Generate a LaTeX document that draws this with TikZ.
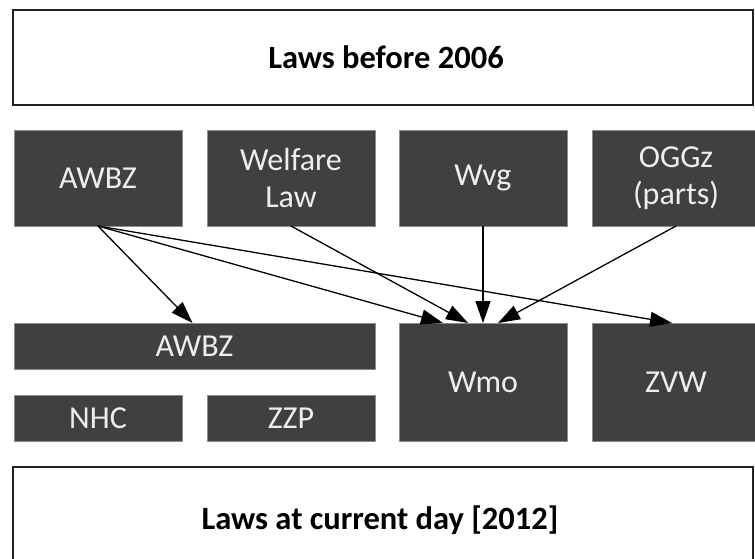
\documentclass[tikz,border=0pt]{standalone}
\usepackage{fontspec}
\setmainfont{Carlito}
\usetikzlibrary{arrows.meta,calc}
\definecolor{boxfill}{HTML}{404040}
\definecolor{boxtext}{HTML}{EEEEEE}
\definecolor{boxedge}{HTML}{8C8C8C}
\definecolor{frameline}{HTML}{222222}
\tikzset{
  darkbox/.style={rectangle, fill=boxfill, draw=boxedge, line width=0.8pt, inner sep=0pt, outer sep=0pt,
    text=boxtext, align=center, font=\fontsize{32}{37}\selectfont},
  framebox/.style={rectangle, fill=white, draw=frameline, line width=2.4pt, inner sep=0pt, outer sep=0pt},
  titletext/.style={text=black, font=\bfseries\fontsize{32.5}{38}\selectfont},
  arr/.style={draw=black, line width=1.3pt, -{Triangle[length=22pt,width=15pt]}}
}
\begin{document}
\begin{tikzpicture}[x=1pt,y=-1pt]
\useasboundingbox (0,0) rectangle (755,558);
\clip (0,0) rectangle (755,558);
\fill[white] (0,0) rectangle (755,558);
% frames
\node[framebox, minimum width=740pt, minimum height=95pt] (before) at (383,57.5) {};
\node[titletext] (beforetxt) at (386,57) {Laws before 2006};
\node[framebox, minimum width=740pt, minimum height=110pt] (current) at (383,522) {};
\node[titletext] (currenttxt) at (380,520) {Laws at current day [2012]};
% row 1
\node[darkbox, minimum width=168pt, minimum height=96pt] (awbz) at (98,178) {AWBZ};
\node[darkbox, minimum width=168pt, minimum height=96pt] (welfare) at (291,178) {Welfare\\Law};
\node[darkbox, minimum width=168pt, minimum height=96pt] (wvg) at (483,178) {Wvg};
\node[darkbox, minimum width=168pt, minimum height=96pt] (oggz) at (676,178) {OGGz\\(parts)};
% row 2
\node[darkbox, minimum width=361pt, minimum height=46pt] (awbz2) at (194.5,346) {AWBZ};
\node[darkbox, minimum width=168pt, minimum height=46pt] (nhc) at (98,418) {NHC};
\node[darkbox, minimum width=168pt, minimum height=46pt] (zzp) at (291,418) {ZZP};
\node[darkbox, minimum width=168pt, minimum height=118pt] (wmo) at (483,382) {Wmo};
\node[darkbox, minimum width=168pt, minimum height=118pt] (zvw) at (676,382) {ZVW};
% arrows
\draw[arr] (awbz.south) -- ($(awbz2.north)+(-2,0)$);
\draw[arr] (awbz.south) -- ($(wmo.north)+(-40,0)$);
\draw[arr] (awbz.south) -- ($(zvw.north)+(-4,0)$);
\draw[arr] (welfare.south) -- ($(wmo.north)+(-15,0)$);
\draw[arr] (wvg.south) -- (wmo.north);
\draw[arr] (oggz.south) -- ($(wmo.north)+(15,0)$);
\end{tikzpicture}
\end{document}
